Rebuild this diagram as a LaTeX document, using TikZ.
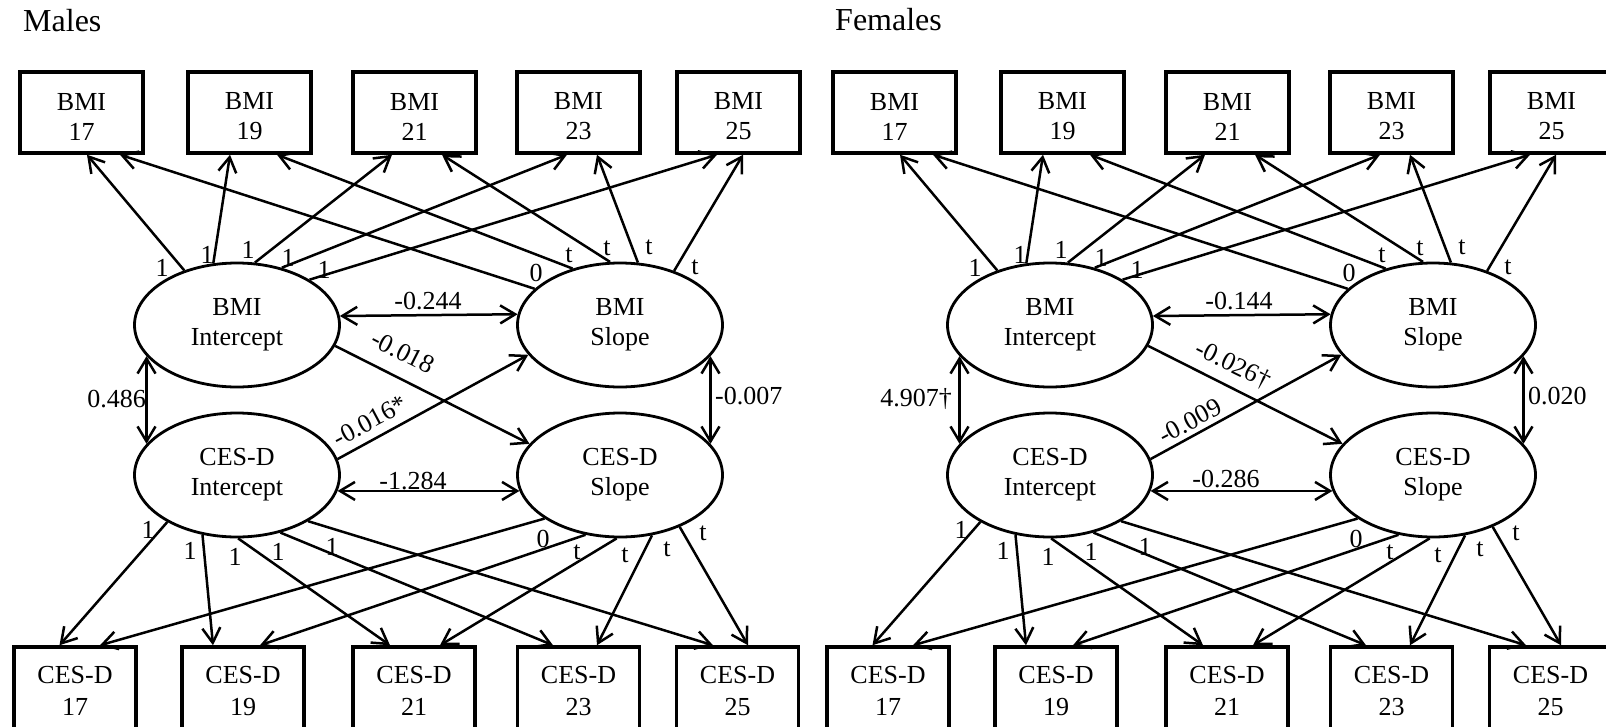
\documentclass[tikz,border=0pt]{standalone}
\usepackage{fontspec}
\setmainfont{Liberation Serif}
\usetikzlibrary{arrows.meta,shapes.geometric}

\tikzset{
  obs/.style={draw, line width=3.5pt, minimum width=123pt, minimum height=81pt, inner sep=0pt},
  boxtxt/.style={align=center, inner sep=0pt, font=\fontsize{26}{30}\selectfont, yshift=-4pt},
  obsb/.style={draw, line width=3.5pt, minimum width=122pt, minimum height=88pt, inner sep=0pt, align=center, font=\fontsize{26}{32}\selectfont},
  lat/.style={draw, ellipse, line width=2.8pt, minimum width=205pt, minimum height=124pt, inner sep=0pt, align=center, font=\fontsize{26}{30}\selectfont},
  conn/.style={line width=2.5pt, -{Straight Barb[length=15pt,width=18pt]}},
  covar/.style={line width=2.5pt, {Straight Barb[length=15pt,width=18pt]}-{Straight Barb[length=15pt,width=18pt]}},
  lbl/.style={font=\fontsize{26}{30}\selectfont, inner sep=0pt},
  ttl/.style={font=\fontsize{32}{36}\selectfont, inner sep=0pt, anchor=base west},
}

\newcommand\sempanel[1]{%
  % observed BMI
  \node[obs, label={[boxtxt]center:BMI\\17}] (#1t17) at (81.5,112.5) {};
  \node[obs, label={[boxtxt]center:BMI\\19}] (#1t19) at (249.5,112.5) {};
  \node[obs, label={[boxtxt]center:BMI\\21}] (#1t21) at (414.5,112.5) {};
  \node[obs, label={[boxtxt]center:BMI\\23}] (#1t23) at (578.5,112.5) {};
  \node[obs, label={[boxtxt]center:BMI\\25}] (#1t25) at (738.5,112.5) {};
  % observed CES-D
  \node[obsb] (#1b17) at (75,691) {CES-D\\17};
  \node[obsb] (#1b19) at (243,691) {CES-D\\19};
  \node[obsb] (#1b21) at (414,691) {CES-D\\21};
  \node[obsb] (#1b23) at (578.5,691) {CES-D\\23};
  \node[obsb] (#1b25) at (737.5,691) {CES-D\\25};
  % latent
  \node[lat] (#1bi) at (237,325) {BMI\\Intercept};
  \node[lat] (#1bs) at (620,325) {BMI\\Slope};
  \node[lat] (#1ci) at (237,475) {CES-D\\Intercept};
  \node[lat] (#1cs) at (620,475) {CES-D\\Slope};
  % BMI loadings
  \draw[conn] (#1bi.134) -- ([xshift=5.5pt]#1t17.south);
  \draw[conn] (#1bi.111) -- ([xshift=-19.5pt]#1t19.south);
  \draw[conn] (#1bi.74) -- ([xshift=-22.5pt]#1t21.south);
  \draw[conn] (#1bi.52) -- ([xshift=-11.5pt]#1t23.south);
  \draw[conn] (#1bi.32) -- ([xshift=-21.5pt]#1t25.south);
  \draw[conn] (#1bs.157) -- ([xshift=38.5pt]#1t17.south);
  \draw[conn] (#1bs.130) -- ([xshift=27.5pt]#1t19.south);
  \draw[conn] (#1bs.99) -- ([xshift=27.5pt]#1t21.south);
  \draw[conn] (#1bs.74) -- ([xshift=18.5pt]#1t23.south);
  \draw[conn] (#1bs.45) -- ([xshift=4.5pt]#1t25.south);
  % CES-D loadings
  \draw[conn] (#1ci.214) -- ([xshift=-15.5pt]#1b17.north);
  \draw[conn] (#1ci.240) -- ([xshift=-30pt]#1b19.north);
  \draw[conn] (#1ci.271) -- ([xshift=-24pt]#1b21.north);
  \draw[conn] (#1ci.307) -- ([xshift=-25.5pt]#1b23.north);
  \draw[conn] (#1ci.327) -- ([xshift=-24.5pt]#1b25.north);
  \draw[conn] (#1cs.210) -- ([xshift=25pt]#1b17.north);
  \draw[conn] (#1cs.240) -- ([xshift=17pt]#1b19.north);
  \draw[conn] (#1cs.267) -- ([xshift=26pt]#1b21.north);
  \draw[conn] (#1cs.298) -- ([xshift=18.5pt]#1b23.north);
  \draw[conn] (#1cs.319) -- ([xshift=10.5pt]#1b25.north);
  % loading labels
  \node[lbl] (#1la1) at (162,268) {1};
  \node[lbl] (#1la2) at (207,255) {1};
  \node[lbl] (#1la3) at (248,250) {1};
  \node[lbl] (#1la4) at (288,258) {1};
  \node[lbl] (#1la5) at (324,270) {1};
  \node[lbl] (#1lb1) at (536,273) {0};
  \node[lbl] (#1lb2) at (569,255) {t};
  \node[lbl] (#1lb3) at (607,248) {t};
  \node[lbl] (#1lb4) at (649,247) {t};
  \node[lbl] (#1lb5) at (695,267) {t};
  \node[lbl] (#1lc1) at (148,530) {1};
  \node[lbl] (#1lc2) at (190,551) {1};
  \node[lbl] (#1lc3) at (235,557) {1};
  \node[lbl] (#1lc4) at (278,552) {1};
  \node[lbl] (#1lc5) at (332,547) {1};
  \node[lbl] (#1ld1) at (543,539) {0};
  \node[lbl] (#1ld2) at (577,552) {t};
  \node[lbl] (#1ld3) at (625,555) {t};
  \node[lbl] (#1ld4) at (667,549) {t};
  \node[lbl] (#1ld5) at (703,533) {t};
  % structural paths
  \draw[covar] (#1bi.199) -- (#1ci.161);
  \draw[covar] (#1bi.5.65) -- (#1bs.174.35);
  \draw[conn] (#1bi.-12.3) -- (#1cs.161.7);
  \draw[conn] (#1ci.9.4) -- (#1bs.198.8);
  \draw[covar] (#1ci.-9.2) -- (#1cs.189.2);
  \draw[covar] (#1bs.-19.9) -- (#1cs.19.9);
}

\begin{document}
\begin{tikzpicture}[x=1pt,y=-1pt]
  \useasboundingbox (0,0) rectangle (1606,726);
  \clip (0,0) rectangle (1606,726);
  \fill[white] (0,0) rectangle (1606,726);

  \node[ttl] (mtitle) at (23,31) {Males};
  \node[ttl] (ftitle) at (835,30) {Females};

  \begin{scope}
    \sempanel{m}
    \node[lbl, anchor=east] (mc1) at (146,399) {0.486};
    \node[lbl] (mc2) at (428,301) {-0.244};
    \node[lbl, rotate=-27] (mc3) at (403,352) {-0.018};
    \node[lbl, rotate=28] (mc4) at (370,421) {-0.016*};
    \node[lbl] (mc5) at (413,481) {-1.284};
    \node[lbl, anchor=west] (mc6) at (715,396) {-0.007};
  \end{scope}

  \begin{scope}[xshift=813pt]
    \sempanel{f}
    \node[lbl, anchor=east] (fc1) at (139,399) {4.907†};
    \node[lbl] (fc2) at (426,301) {-0.144};
    \node[lbl, rotate=-26] (fc3) at (420,365) {-0.026†};
    \node[lbl, rotate=28] (fc4) at (377,421) {-0.009};
    \node[lbl] (fc5) at (413,479) {-0.286};
    \node[lbl, anchor=west] (fc6) at (715,396) {0.020};
  \end{scope}
\end{tikzpicture}
\end{document}
